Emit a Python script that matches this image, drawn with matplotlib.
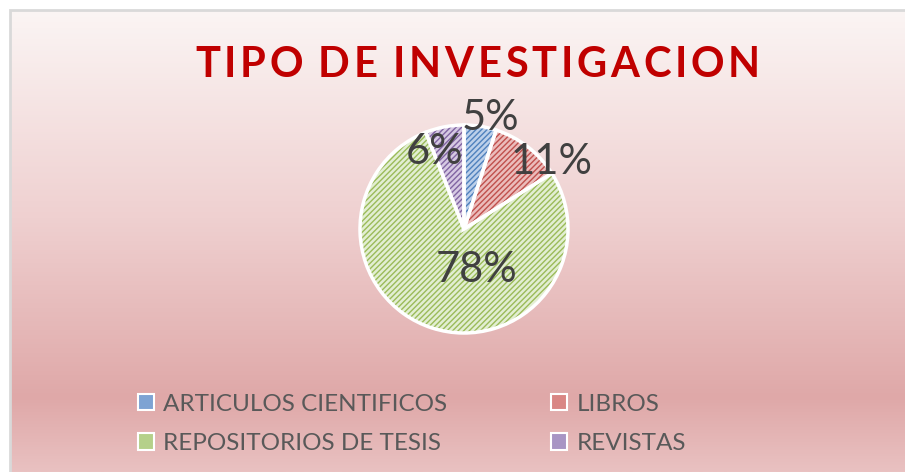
import numpy as np
import matplotlib.pyplot as plt
from matplotlib.colors import LinearSegmentedColormap
from matplotlib.patches import Patch, Rectangle

# datos
categorias = ["ARTICULOS CIENTIFICOS", "LIBROS", "REPOSITORIOS DE TESIS", "REVISTAS"]
porcentajes = [5, 11, 78, 6]
titulo = "TIPO DE INVESTIGACION"

# estilo
relleno = ["#bcd0ea", "#ebbcbb", "#e2eed2", "#d6c9e3"]
trama = ["#4f81bd", "#c0504d", "#9bbb59", "#8064a2"]
leyenda_col = ["#7ea3d3", "#d98684", "#b5d08a", "#a895c4"]
# posiciones de las etiquetas (coordenadas del eje, radio = 1), mismo orden que porcentajes
pos_etiquetas = [(0.25, 1.07), (0.84, 0.64), (0.125, -0.39), (-0.28, 0.74)]

W, H = 905, 472
fig = plt.figure(figsize=(W / 100, H / 100), dpi=100)
fig.patch.set_facecolor("white")

# fondo degradado
bg = fig.add_axes([10 / W, 0, 1 - 10 / W, 1 - 10 / H])
bg.set_axis_off()
cmap = LinearSegmentedColormap.from_list(
    "fondo", [(0, "#fbf5f4"), (0.45, "#efd0d0"), (0.84, "#dfa8a8"), (1, "#e9c1c1")])
grad = np.linspace(0, 1, 256).reshape(-1, 1)
bg.imshow(grad, aspect="auto", cmap=cmap, extent=[0, 1, 0, 1], origin="upper")
bg.set_xlim(0, 1)
bg.set_ylim(0, 1)
fig.add_artist(Rectangle((10 / W, -0.01), 1.0, 1 - 10 / H + 0.01, transform=fig.transFigure,
                         fill=False, edgecolor="#d9d9d9", linewidth=2))

# pastel
cx, cy, r = 464, 229, 104
ax = fig.add_axes([(cx - r) / W, (H - cy - r) / H, 2 * r / W, 2 * r / H])

wedges, _ = ax.pie(porcentajes, startangle=90, counterclock=False, radius=1,
                   colors=relleno, wedgeprops=dict(linewidth=0))
for w, c in zip(wedges, trama):
    w.set_hatch("//////")
    w.set_edgecolor(c)
    w.set_linewidth(0)
ax.pie(porcentajes, startangle=90, counterclock=False, radius=1,
       wedgeprops=dict(fill=False, edgecolor="white", linewidth=2.5))
ax.set_xlim(-1, 1)
ax.set_ylim(-1, 1)
ax.set_aspect("equal")
ax.set_axis_off()

for p, (x, y) in zip(porcentajes, pos_etiquetas):
    ax.text(x, y, f"{p}%", ha="center", va="center", fontsize=30,
            color="#404040", family="Lato", clip_on=False)

# titulo con espaciado entre letras
fuente_tit = ["Liberation Sans Narrow", "Lato"]
fig.canvas.draw()
rend = fig.canvas.get_renderer()
anchos = []
for ch in titulo:
    t = fig.text(0, 0, ch if ch != " " else "I", fontsize=30, weight="bold", family=fuente_tit)
    anchos.append(t.get_window_extent(rend).width * (0.6 if ch == " " else 1))
    t.remove()
x0, x1 = 195, 760
esp = (x1 - x0 - sum(anchos)) / (len(titulo) - 1)
x = x0
for ch, a in zip(titulo, anchos):
    if ch != " ":
        fig.text(x / W, 1 - 77 / H, ch, fontsize=30, weight="bold", family=fuente_tit,
                 color="#c00000", ha="left", va="baseline")
    x += a + esp

# leyenda (orden por filas)
orden = [0, 2, 1, 3]
handles = [Patch(facecolor=leyenda_col[i], edgecolor="white", linewidth=1.5) for i in orden]
fig.legend(handles, [categorias[i] for i in orden], ncol=2, loc="center left",
           bbox_to_anchor=(116 / W, 1 - 424 / H), frameon=False,
           prop=dict(family="Lato", size=17.5), labelcolor="#595959",
           handlelength=0.65, handleheight=0.65, handletextpad=0.4,
           columnspacing=4.27, labelspacing=0.75)

fig.savefig("out.png", dpi=100)
